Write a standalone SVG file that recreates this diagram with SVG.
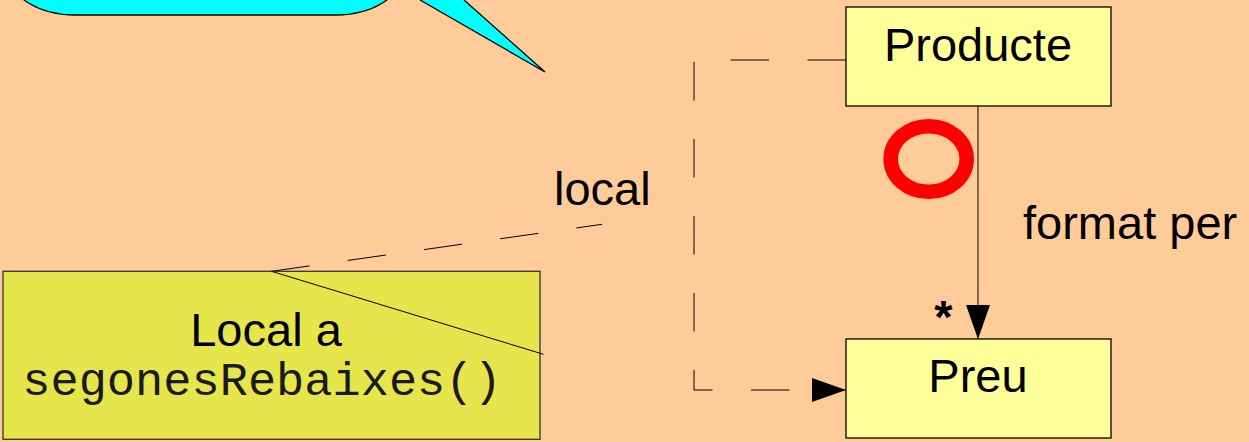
<svg xmlns="http://www.w3.org/2000/svg" width="1249" height="442" viewBox="0 0 1249 442">
<defs>
<style>
.box{fill:#FFFF99;stroke:#000;stroke-width:1.3}
.note{fill:#E6E64C;stroke:#333;stroke-width:1.3}
.t{font-family:"Liberation Sans",Arial,sans-serif;font-size:47px;fill:#000}
.mono{font-family:"Liberation Mono","Courier New",monospace;font-size:47px;fill:#1a1a1a}
.dash{fill:none;stroke:#000;stroke-width:1;stroke-dasharray:38.5 38.5}
.solid{fill:none;stroke:#000;stroke-width:1}
</style>
<marker id="arr" viewBox="0 0 34 24" refX="34" refY="12" markerWidth="34" markerHeight="24" markerUnits="userSpaceOnUse" orient="auto">
<path d="M0,0 L34,12 L0,24 Z" fill="#000"/>
</marker>
</defs>
<rect x="0" y="0" width="1249" height="442" fill="#FFCC99"/>
<g id="callout">
<rect x="10" y="-80" width="391" height="95" rx="65" ry="40" fill="#00FFFF" stroke="#000" stroke-width="1.3"/>
<path d="M420,0 L545,72 L464,0" fill="#00FFFF" stroke="#000" stroke-width="1.3"/>
</g>
<g id="connectors">
<path class="dash" d="M846,60 L694,60 L694,390 L846,390" marker-end="url(#arr)"/>
<path class="solid" d="M978,106 L978,339" marker-end="url(#arr)"/>
<path class="dash" d="M271.5,271.3 L602,224.3"/>
<text class="t" x="554" y="205">local</text>
<text class="t" x="1023" y="239">format per</text>
<text class="t" x="943.5" y="333" text-anchor="middle" font-weight="bold" font-size="50">*</text>
<ellipse cx="928.7" cy="159" rx="38" ry="32.8" fill="none" stroke="#FF0000" stroke-width="14.6"/>
</g>
<g id="producte">
<rect class="box" x="846" y="7" width="265" height="99"/>
<text class="t" x="978" y="61" text-anchor="middle">Producte</text>
</g>
<g id="preu">
<rect class="box" x="846" y="339" width="265" height="99"/>
<text class="t" x="978" y="392" text-anchor="middle">Preu</text>
</g>
<g id="local-note">
<rect class="note" x="3" y="271.3" width="537" height="168"/>
<line class="solid" x1="271.5" y1="271.3" x2="543.5" y2="354.3"/>
<text class="t" x="266" y="346" text-anchor="middle">Local a</text>
<text class="mono" x="262" y="395" text-anchor="middle">segonesRebaixes()</text>
</g>
</svg>
